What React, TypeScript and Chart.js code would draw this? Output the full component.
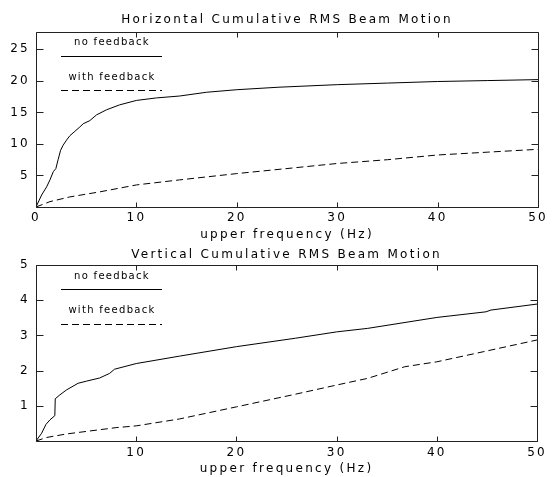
import { useEffect, useRef } from 'react';
import { Chart, registerables } from 'chart.js';

Chart.register(...registerables);

const FONT = '"DejaVu Sans", sans-serif';
const INK = '#000000';
const SPACING = '2.3px';

// ---- Horizontal plot data ----
const hTitle = 'Horizontal Cumulative RMS Beam Motion';
const hFreqNoFb = [0, 0.56, 1.06, 1.39, 1.72, 1.98, 2.2, 2.45, 2.7, 3.04, 3.37, 3.87, 4.37, 4.7, 5.36, 6.02, 7.0, 8.33, 10, 12, 14.3, 17, 20, 24.2, 30, 35, 40, 45, 50];
const hNoFb = [0, 1.9, 3.2, 4.3, 5.6, 6.1, 7.5, 9.0, 9.8, 10.6, 11.3, 12.0, 12.7, 13.2, 13.7, 14.6, 15.4, 16.2, 16.9, 17.3, 17.6, 18.2, 18.6, 19.0, 19.4, 19.65, 19.9, 20.05, 20.2];
const hFreqFb = [0, 1.39, 3.37, 6.35, 10, 14.3, 20, 25, 30, 35, 40, 45, 50];
const hFb = [0, 0.85, 1.6, 2.4, 3.5, 4.3, 5.3, 6.1, 6.9, 7.5, 8.25, 8.7, 9.15];
const hYMax = 27.8;
const hYStep = 5;

// ---- Vertical plot data ----
const vTitle = 'Vertical Cumulative RMS Beam Motion';
const vFreqNoFb = [0, 0.56, 0.99, 1.39, 1.88, 1.92, 2.38, 3.04, 4.2, 5.03, 6.35, 7.34, 7.84, 10, 14.3, 20, 25.9, 30, 33.1, 40, 44.9, 45.4, 50];
const vNoFb = [0, 0.22, 0.47, 0.6, 0.72, 1.2, 1.31, 1.45, 1.64, 1.7, 1.79, 1.92, 2.04, 2.2, 2.41, 2.68, 2.92, 3.1, 3.2, 3.51, 3.67, 3.72, 3.89];
const vFreqFb = [0, 1.06, 3.04, 8.0, 10, 14.3, 20, 25.9, 30, 33.1, 36.8, 40, 44.7, 50];
const vFb = [0, 0.1, 0.2, 0.38, 0.43, 0.625, 0.97, 1.33, 1.59, 1.78, 2.11, 2.25, 2.54, 2.87];
const vYMax = 5;
const vYStep = 1;

const xLabel = 'upper frequency (Hz)';
const xMax = 50;
const xStep = 10;
const seriesLabels = ['no feedback', 'with feedback'];

const W = 552;
const TOP_H = 244;
const BOT_H = 233;

const toPts = (xs: number[], ys: number[]) => xs.map((x, i) => ({ x, y: ys[i] }));

const framePlugin = {
  id: 'frameTicks',
  beforeUpdate(chart: any) {
    chart.ctx.letterSpacing = SPACING;
  },
  beforeDraw(chart: any) {
    chart.ctx.letterSpacing = SPACING;
  },
  afterDraw(chart: any) {
    const { ctx, chartArea: a, scales } = chart;
    ctx.save();
    ctx.strokeStyle = '#222';
    ctx.lineWidth = 1;
    const L = Math.round(a.left) + 0.5;
    const R = Math.round(a.right) + 0.5;
    const T = Math.round(a.top) + 0.5;
    const B = Math.round(a.bottom) + 0.5;
    ctx.beginPath();
    ctx.rect(L, T, R - L, B - T);
    const xs = scales.x;
    xs.ticks.forEach((t: any) => {
      const px = Math.round(xs.getPixelForValue(t.value)) + 0.5;
      ctx.moveTo(px, B);
      ctx.lineTo(px, B - 5);
      ctx.moveTo(px, T);
      ctx.lineTo(px, T + 5);
    });
    const ys = scales.y;
    ys.ticks.forEach((t: any) => {
      const py = Math.round(ys.getPixelForValue(t.value)) + 0.5;
      ctx.moveTo(L, py);
      ctx.lineTo(L + 7, py);
      ctx.moveTo(R, py);
      ctx.lineTo(R - 7, py);
    });
    ctx.stroke();
    ctx.restore();
  },
};

const legendPlugin = {
  id: 'insetLegend',
  afterDatasetsDraw(chart: any) {
    const { ctx, chartArea: a } = chart;
    const ds = chart.data.datasets;
    ctx.save();
    ctx.letterSpacing = '1.3px';
    ctx.font = `10px ${FONT}`;
    ctx.fillStyle = INK;
    ctx.textAlign = 'center';
    ctx.textBaseline = 'middle';
    const cx = a.left + 76;
    const x0 = a.left + 25;
    const x1 = a.left + 126;
    ctx.fillText(ds[0].label, cx, a.top + 11);
    ctx.fillText(ds[1].label, cx, a.top + 45.5);
    ctx.strokeStyle = INK;
    ctx.lineWidth = 1;
    ctx.beginPath();
    ctx.moveTo(x0, Math.round(a.top + 24) + 0.5);
    ctx.lineTo(x1, Math.round(a.top + 24) + 0.5);
    ctx.stroke();
    ctx.setLineDash([7, 4]);
    ctx.beginPath();
    ctx.moveTo(x0, Math.round(a.top + 58.5) + 0.5);
    ctx.lineTo(x1, Math.round(a.top + 58.5) + 0.5);
    ctx.stroke();
    ctx.restore();
  },
};

function makeConfig(opts: {
  title: string;
  fNo: number[];
  vNo: number[];
  fFb: number[];
  vFb: number[];
  yMax: number;
  yStep: number;
  showX0: boolean;
  titlePad: { top: number; bottom: number };
  xAxisH: number;
  xTickPad: number;
  xTitlePadB: number;
}): any {
  return {
    type: 'line',
    data: {
      datasets: [
        {
          label: seriesLabels[0],
          data: toPts(opts.fNo, opts.vNo),
          borderColor: INK,
          borderWidth: 1,
          pointRadius: 0,
          tension: 0,
          fill: false,
        },
        {
          label: seriesLabels[1],
          data: toPts(opts.fFb, opts.vFb),
          borderColor: INK,
          borderWidth: 1,
          borderDash: [7, 4],
          pointRadius: 0,
          tension: 0,
          fill: false,
        },
      ],
    },
    options: {
      animation: false,
      responsive: false,
      devicePixelRatio: 1,
      layout: { padding: { left: 0, right: 12, top: 0, bottom: 0 } },
      plugins: {
        legend: { display: false },
        tooltip: { enabled: false },
        title: {
          display: true,
          fullSize: false,
          text: opts.title,
          color: INK,
          font: { family: FONT, size: 12, weight: 'normal', lineHeight: 1.2 },
          padding: opts.titlePad,
        },
      },
      scales: {
        x: {
          type: 'linear',
          min: 0,
          max: xMax,
          grid: { display: false, drawTicks: false },
          border: { display: false },
          ticks: {
            stepSize: xStep,
            color: INK,
            padding: opts.xTickPad,
            maxRotation: 0,
            font: { family: FONT, size: 12, lineHeight: 1.2 },
            callback: (v: any) => (!opts.showX0 && v === 0 ? '' : String(v)),
          },
          title: {
            display: true,
            text: xLabel,
            color: INK,
            font: { family: FONT, size: 12, lineHeight: 1.2 },
            padding: { top: 0, bottom: opts.xTitlePadB },
          },
          afterFit: (s: any) => {
            s.height = opts.xAxisH;
          },
        },
        y: {
          type: 'linear',
          min: 0,
          max: opts.yMax,
          grid: { display: false, drawTicks: false },
          border: { display: false },
          ticks: {
            stepSize: opts.yStep,
            includeBounds: false,
            color: INK,
            padding: 6,
            font: { family: FONT, size: 12, lineHeight: 1.2 },
            callback: (v: any) => (v === 0 ? '' : String(v)),
          },
          afterFit: (s: any) => {
            s.width = 36;
          },
        },
      },
    },
    plugins: [framePlugin, legendPlugin],
  };
}

export default function App() {
  const topRef = useRef<HTMLCanvasElement>(null);
  const botRef = useRef<HTMLCanvasElement>(null);

  useEffect(() => {
    const c1 = new Chart(
      topRef.current as HTMLCanvasElement,
      makeConfig({
        title: hTitle,
        fNo: hFreqNoFb,
        vNo: hNoFb,
        fFb: hFreqFb,
        vFb: hFb,
        yMax: hYMax,
        yStep: hYStep,
        showX0: true,
        titlePad: { top: 12.5, bottom: 4.8 },
        xAxisH: TOP_H - 207,
        xTickPad: 4,
        xTitlePadB: 1.8,
      })
    );
    const c2 = new Chart(
      botRef.current as HTMLCanvasElement,
      makeConfig({
        title: vTitle,
        fNo: vFreqNoFb,
        vNo: vNoFb,
        fFb: vFreqFb,
        vFb: vFb,
        yMax: vYMax,
        yStep: vYStep,
        showX0: false,
        titlePad: { top: 3.5, bottom: 3.1 },
        xAxisH: BOT_H - 197,
        xTickPad: 5,
        xTitlePadB: 0.8,
      })
    );
    return () => {
      c1.destroy();
      c2.destroy();
    };
  }, []);

  return (
    <div
      style={{
        position: 'absolute',
        left: 0,
        top: 0,
        width: W,
        height: TOP_H + BOT_H,
        background: '#ffffff',
      }}
    >
      <canvas ref={topRef} width={W} height={TOP_H} style={{ display: 'block', width: W, height: TOP_H }} />
      <canvas ref={botRef} width={W} height={BOT_H} style={{ display: 'block', width: W, height: BOT_H }} />
    </div>
  );
}
